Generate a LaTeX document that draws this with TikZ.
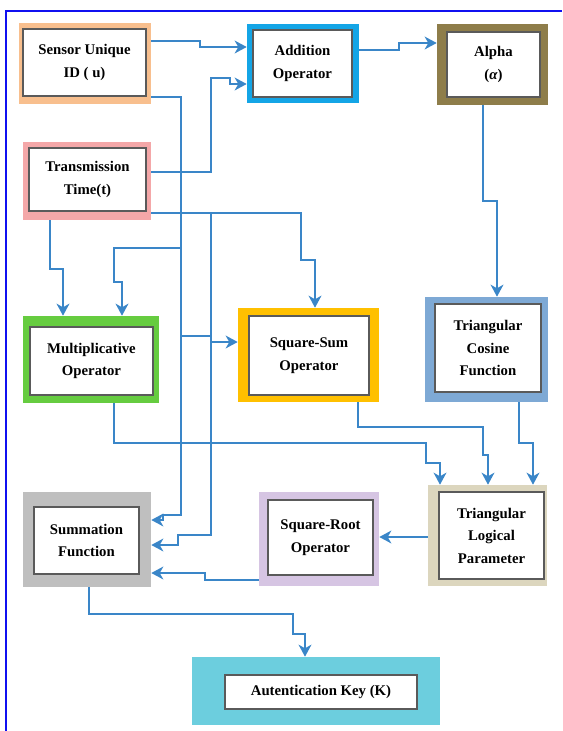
\documentclass[tikz,border=0pt]{standalone}
\usepackage{fontspec}
\setmainfont{Liberation Serif}
\usetikzlibrary{arrows.meta}
\definecolor{wire}{HTML}{3A86C8}
\definecolor{edge}{HTML}{5A5A5A}
\definecolor{pageblue}{HTML}{1010F0}
\definecolor{sensorc}{HTML}{F8BF8E}
\definecolor{timec}{HTML}{F4A7A8}
\definecolor{addc}{HTML}{14A5E6}
\definecolor{alphac}{HTML}{8E7D4A}
\definecolor{multc}{HTML}{66CC40}
\definecolor{sumc}{HTML}{FFC000}
\definecolor{cosc}{HTML}{7EA9D5}
\definecolor{logicc}{HTML}{DCD6BE}
\definecolor{rootc}{HTML}{D6C5E3}
\definecolor{summc}{HTML}{BFBFBF}
\definecolor{keyc}{HTML}{6CCEDE}

\begin{document}
\begin{tikzpicture}[
    x=0.025cm,y=-0.025cm,
    every node/.style={font=\bfseries\fontsize{10.5}{16}\selectfont,align=center},
    outerbox/.style={fill=#1,draw=none,inner sep=0pt},
    innerbox/.style={draw=edge,line width=0.8pt,fill=white,inner sep=0pt},
    link/.style={draw=wire,line width=1.5pt,-{Stealth[length=0.3cm,width=0.32cm,inset=0.09cm]}}
  ]
    \useasboundingbox (0,0) rectangle (562,731);
    \draw[pageblue,line width=1.4pt] (562,11) -- (6,11) -- (6,731);

    % outer frames
    \node[outerbox=sensorc,minimum width=3.3cm,minimum height=2.025cm] (sensor) at (85,63.5) {};
    \node[outerbox=timec,minimum width=3.2cm,minimum height=1.95cm] (trans) at (87,181) {};
    \node[outerbox=addc,minimum width=2.8cm,minimum height=1.975cm] (add) at (303,63.5) {};
    \node[outerbox=alphac,minimum width=2.775cm,minimum height=2.025cm] (alpha) at (492.5,64.5) {};
    \node[outerbox=multc,minimum width=3.4cm,minimum height=2.175cm] (mult) at (91,359.5) {};
    \node[outerbox=sumc,minimum width=3.525cm,minimum height=2.35cm] (sqsum) at (308.5,355) {};
    \node[outerbox=cosc,minimum width=3.075cm,minimum height=2.625cm] (cosine) at (486.5,349.5) {};
    \node[outerbox=logicc,minimum width=2.975cm,minimum height=2.525cm] (logic) at (487.5,535.5) {};
    \node[outerbox=rootc,minimum width=3.0cm,minimum height=2.35cm] (sqroot) at (319,539) {};
    \node[outerbox=summc,minimum width=3.2cm,minimum height=2.375cm] (summ) at (87,539.5) {};
    \node[outerbox=keyc,minimum width=6.2cm,minimum height=1.7cm] (auth) at (316,691) {};

    % inner cards
    \node[innerbox,minimum width=3.075cm,minimum height=1.675cm] (sensor-in) at (84.5,62.5) {Sensor Unique\\ID ( u)};
    \node[innerbox,minimum width=2.925cm,minimum height=1.575cm] (trans-in) at (87.5,179.5) {Transmission\\Time(t)};
    \node[innerbox,minimum width=2.475cm,minimum height=1.675cm] (add-in) at (302.5,63.5) {Addition\\Operator};
    \node[innerbox,minimum width=2.325cm,minimum height=1.625cm] (alpha-in) at (493.5,64.5) {Alpha\\(\textit{α})};
    \node[innerbox,minimum width=3.075cm,minimum height=1.7cm] (mult-in) at (91.5,361) {Multiplicative\\Operator};
    \node[innerbox,minimum width=3.0cm,minimum height=1.975cm] (sqsum-in) at (309,355.5) {Square-Sum\\Operator};
    \node[innerbox,minimum width=2.65cm,minimum height=2.2cm] (cosine-in) at (488,348) {Triangular\\Cosine\\Function};
    \node[innerbox,minimum width=2.625cm,minimum height=2.175cm] (logic-in) at (491.5,535.5) {Triangular\\Logical\\Parameter};
    \node[innerbox,minimum width=2.625cm,minimum height=1.875cm] (sqroot-in) at (320.5,537.5) {Square-Root\\Operator};
    \node[innerbox,minimum width=2.625cm,minimum height=1.675cm] (summ-in) at (86.5,540.5) {Summation\\Function};
    \node[innerbox,minimum width=4.8cm,minimum height=0.85cm] (auth-in) at (321,692) {Autentication Key (K)};

    % bus taps
    \coordinate (busA) at (181,248);
    \coordinate (busB) at (181,336);
    \coordinate (busC) at (211,213);

    % connectors
    \draw[link] (sensor.east |- 0,41) -- (200,41) |- (add.west |- 0,47);
    \draw[link] (trans.east |- 0,172) -| (211,78) -- (230,78) |- (add.west |- 0,84);
    \draw[link] (add.east |- 0,50) -- (399,50) |- (alpha.west |- 0,43);
    \draw[link] (alpha.south -| 483,0) |- (497,201) -- (cosine.north -| 497,0);
    \draw[link] (sensor.east |- 0,97) -| (181,515) -- (163,515) |- (summ.east |- 0,520);
    \draw[link] (busA) -| (114,282) -- (122,282) -- (mult.north -| 122,0);
    \draw[link] (busB) -- (211,336) -- (211,342) -- (sqsum.west |- 0,342);
    \draw[link] (trans.south -| 50,0) |- (63,269) -- (mult.north -| 63,0);
    \draw[link] (trans.east |- 0,213) -| (301,260) -- (315,260) -- (sqsum.north -| 315,0);
    \draw[link] (busC) |- (178,535) |- (summ.east |- 0,545);
    \draw[link] (mult.south -| 114,0) |- (426,443) |- (440,463) -- (logic.north -| 440,0);
    \draw[link] (sqsum.south -| 358,0) |- (483,427) |- (488,455) -- (logic.north -| 488,0);
    \draw[link] (cosine.south -| 519,0) |- (533,443) -- (logic.north -| 533,0);
    \draw[link] (logic.west |- 0,537) -- (sqroot.east |- 0,537);
    \draw[link] (sqroot.west |- 0,580) -| (205,573) -- (summ.east |- 0,573);
    \draw[link] (summ.south -| 89,0) |- (293,614) |- (305,634) -- (auth.north -| 305,0);
  \end{tikzpicture}
\end{document}
